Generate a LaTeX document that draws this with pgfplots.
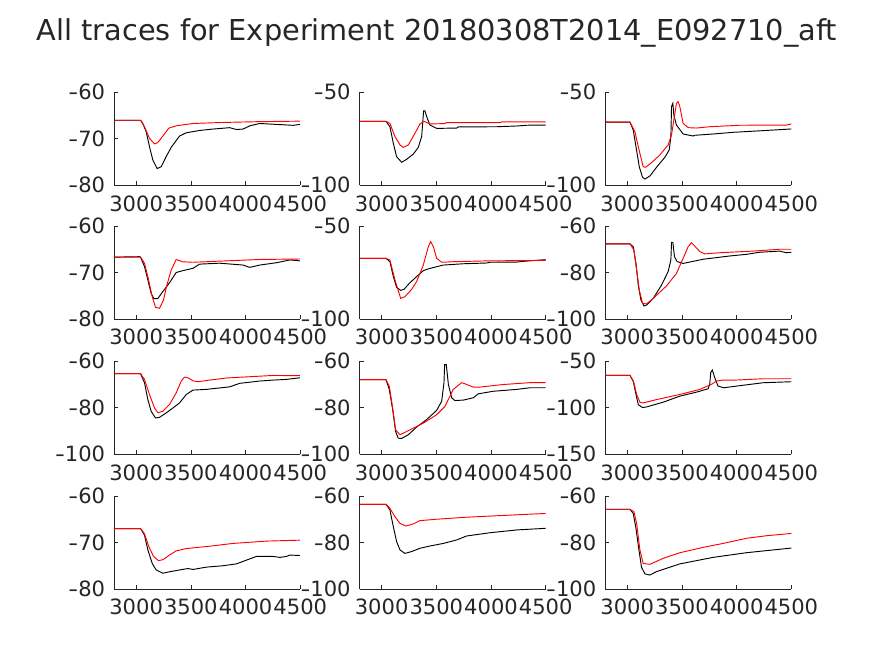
\documentclass[border=0pt]{standalone}
\usepackage{pgfplots}
\pgfplotsset{compat=1.18}
\usepackage{fontspec}
\setmainfont{DejaVu Sans}
\definecolor{axisgray}{gray}{0.15}
\newcommand{\ticksize}{\fontsize{15.8pt}{17pt}\selectfont}
\newcommand{\mm}{\scalebox{1.3}[1]{-}}
\pgfplotsset{
  panel/.style={
    scale only axis, width=139.5pt, height=69.75pt,
    anchor=south west,
    xmin=2800, xmax=4500,
    xtick={3000,3500,4000,4500}, xticklabels={3000,3500,4000,4500},
    axis x line*=bottom, axis y line*=left,
    axis line style={draw=axisgray, line width=0.5pt, -},
    tick style={draw=axisgray, line width=0.5pt},
    major tick length=3pt,
    tick label style={font=\ticksize, text=axisgray},
    xticklabel style={yshift=-4.2pt},
    yticklabel style={xshift=-3.3pt},
  },
  blk/.style={black, line width=0.7pt, no marks},
  rd/.style={red, line width=0.7pt, no marks},
}
\begin{document}
\begin{tikzpicture}
\path (0,0) rectangle (655.5pt,492pt);
\node[font=\fontsize{21.6pt}{25pt}\selectfont, text=axisgray] at (327.75pt,467.25pt) {All traces for Experiment 20180308T2014\_E092710\_aft};

% Panel 1
\begin{axis}[panel, at={(85.7pt,353pt)}, ymin=-80, ymax=-60, ytick={-80,-70,-60}, yticklabels={\mm80,\mm70,\mm60}]
\addplot[blk] coordinates {(2800,-66.0)(3040,-66.0)(3061,-66.7)(3092,-68.5)(3122,-71.7)(3153,-74.6)(3192,-76.4)(3229,-76.0)(3275,-73.8)(3321,-71.8)(3397,-69.4)(3458,-68.7)(3580,-68.2)(3702,-67.9)(3855,-67.6)(3916,-68.0)(3977,-67.9)(4040,-67.2)(4130,-66.7)(4283,-66.9)(4435,-67.1)(4497,-66.9)};
\addplot[rd] coordinates {(2800,-66.0)(3040,-66.0)(3076,-67.4)(3122,-69.9)(3168,-71.1)(3198,-70.8)(3244,-69.4)(3299,-67.7)(3366,-67.2)(3519,-66.7)(3763,-66.5)(4130,-66.3)(4497,-66.2)};
\end{axis}
% Panel 2
\begin{axis}[panel, at={(269.8pt,353pt)}, ymin=-100, ymax=-50, ytick={-100,-50}, yticklabels={\mm100,\mm50}]
\addplot[blk] coordinates {(2800,-65.6)(3040,-65.6)(3076,-68.5)(3107,-77.4)(3137,-84.6)(3183,-87.6)(3229,-86.0)(3290,-83.2)(3335,-79.6)(3366,-73.8)(3375,-66.7)(3384,-59.9)(3396,-59.9)(3412,-63.1)(3442,-67.6)(3503,-69.4)(3686,-69.2)(3701,-68.6)(4052,-68.5)(4235,-68.1)(4326,-67.7)(4418,-67.6)(4500,-67.6)};
\addplot[rd] coordinates {(2800,-65.6)(3040,-65.6)(3076,-66.7)(3122,-73.8)(3168,-78.3)(3198,-79.6)(3244,-78.3)(3305,-72.0)(3350,-67.0)(3387,-65.6)(3442,-67.0)(3579,-66.8)(3594,-66.3)(4082,-66.3)(4097,-65.9)(4500,-65.9)};
\end{axis}
% Panel 3
\begin{axis}[panel, at={(454pt,353pt)}, ymin=-100, ymax=-50, ytick={-100,-50}, yticklabels={\mm100,\mm50}]
\addplot[blk] coordinates {(2800,-66.0)(3025,-66.0)(3055,-70.3)(3080,-79.2)(3110,-90.0)(3140,-95.7)(3162,-96.6)(3207,-95.0)(3268,-90.3)(3344,-84.9)(3384,-81.0)(3399,-73.8)(3405,-57.7)(3417,-55.9)(3426,-62.2)(3450,-67.6)(3511,-72.4)(3602,-73.5)(3618,-73.1)(3785,-72.4)(3967,-71.5)(4241,-70.6)(4500,-69.7)};
\addplot[rd] coordinates {(2800,-66.0)(3025,-66.0)(3070,-71.1)(3101,-79.2)(3146,-90.0)(3168,-90.3)(3222,-87.8)(3298,-83.7)(3374,-78.3)(3405,-72.9)(3426,-64.9)(3450,-55.9)(3465,-55.0)(3481,-57.7)(3511,-66.7)(3557,-69.0)(3633,-69.2)(3754,-68.5)(4028,-67.7)(4453,-67.6)(4500,-67.0)};
\end{axis}
% Panel 4
\begin{axis}[panel, at={(85.7pt,252.75pt)}, ymin=-80, ymax=-60, ytick={-80,-70,-60}, yticklabels={\mm80,\mm70,\mm60}]
\addplot[blk] coordinates {(2800,-66.7)(3030,-66.6)(3040,-66.7)(3076,-68.7)(3107,-71.6)(3137,-74.5)(3162,-75.6)(3198,-75.6)(3244,-74.1)(3305,-72.2)(3366,-70.0)(3427,-69.6)(3519,-69.1)(3580,-68.2)(3763,-68.0)(3977,-68.4)(4038,-68.9)(4130,-68.4)(4282,-67.9)(4405,-67.3)(4497,-67.5)};
\addplot[rd] coordinates {(2800,-66.7)(3040,-66.7)(3076,-68.0)(3107,-70.9)(3147,-75.2)(3177,-77.5)(3214,-77.7)(3250,-75.9)(3281,-72.7)(3320,-69.5)(3366,-67.2)(3427,-67.7)(3519,-67.8)(3824,-67.5)(4130,-67.2)(4497,-67.1)};
\end{axis}
% Panel 5
\begin{axis}[panel, at={(269.8pt,252.75pt)}, ymin=-100, ymax=-50, ytick={-100,-50}, yticklabels={\mm100,\mm50}]
\addplot[blk] coordinates {(2800,-67.4)(3040,-67.4)(3076,-69.2)(3107,-77.2)(3137,-83.0)(3174,-84.6)(3204,-84.1)(3259,-80.5)(3320,-77.2)(3381,-74.0)(3442,-72.8)(3564,-71.0)(3747,-70.3)(3960,-69.9)(3991,-69.5)(4235,-69.4)(4296,-69.0)(4500,-68.1)};
\addplot[rd] coordinates {(2800,-67.4)(3040,-67.4)(3076,-68.3)(3122,-79.0)(3174,-88.9)(3213,-88.0)(3274,-84.1)(3320,-79.9)(3381,-71.0)(3427,-61.1)(3448,-58.4)(3473,-61.1)(3503,-67.4)(3549,-69.5)(3656,-69.2)(3930,-68.8)(4235,-68.6)(4500,-68.5)};
\end{axis}
% Panel 6
\begin{axis}[panel, at={(454pt,252.75pt)}, ymin=-100, ymax=-60, ytick={-100,-80,-60}, yticklabels={\mm100,\mm80,\mm60}]
\addplot[blk] coordinates {(2800,-67.7)(3025,-67.7)(3055,-68.9)(3080,-76.1)(3101,-85.4)(3125,-91.8)(3153,-94.4)(3177,-94.0)(3238,-91.1)(3314,-85.4)(3374,-79.6)(3399,-74.6)(3405,-67.0)(3417,-67.0)(3432,-73.2)(3456,-75.3)(3511,-76.1)(3694,-74.3)(3937,-72.9)(4089,-72.2)(4210,-71.3)(4393,-70.8)(4453,-71.5)(4500,-71.3)};
\addplot[rd] coordinates {(2800,-67.7)(3025,-67.7)(3061,-70.3)(3086,-78.9)(3110,-87.5)(3140,-93.3)(3177,-93.5)(3238,-91.1)(3359,-85.8)(3450,-80.4)(3511,-73.9)(3557,-68.9)(3587,-67.2)(3617,-68.6)(3663,-71.0)(3709,-72.0)(3845,-71.5)(4149,-70.8)(4393,-70.0)(4500,-70.0)};
\end{axis}
% Panel 7
\begin{axis}[panel, at={(85.7pt,151.3pt)}, ymin=-100, ymax=-60, ytick={-100,-80,-60}, yticklabels={\mm100,\mm80,\mm60}]
\addplot[blk] coordinates {(2800,-65.3)(3040,-65.3)(3076,-69.2)(3107,-76.5)(3137,-81.5)(3177,-84.4)(3214,-84.1)(3275,-82.2)(3336,-80.1)(3397,-77.9)(3458,-74.3)(3519,-72.4)(3641,-72.1)(3855,-71.0)(3946,-69.5)(4130,-68.5)(4252,-68.1)(4374,-67.8)(4497,-67.1)};
\addplot[rd] coordinates {(2800,-65.3)(3040,-65.3)(3076,-67.8)(3122,-74.3)(3168,-80.1)(3198,-82.1)(3244,-81.5)(3305,-78.6)(3366,-73.6)(3412,-68.5)(3443,-66.8)(3473,-67.1)(3519,-68.4)(3565,-68.8)(3671,-68.1)(3824,-67.2)(4252,-66.1)(4497,-66.2)};
\end{axis}
% Panel 8
\begin{axis}[panel, at={(269.8pt,151.3pt)}, ymin=-100, ymax=-60, ytick={-100,-80,-60}, yticklabels={\mm100,\mm80,\mm60}]
\addplot[blk] coordinates {(2800,-67.9)(3040,-67.9)(3070,-72.1)(3101,-80.8)(3128,-90.2)(3152,-93.1)(3183,-93.2)(3244,-91.6)(3320,-88.3)(3411,-85.1)(3503,-81.1)(3549,-77.2)(3570,-69.2)(3576,-61.4)(3591,-61.4)(3610,-69.9)(3640,-75.7)(3670,-76.9)(3747,-76.7)(3838,-75.7)(3884,-74.0)(4021,-72.9)(4235,-72.1)(4357,-71.4)(4500,-71.4)};
\addplot[rd] coordinates {(2800,-67.9)(3040,-67.9)(3070,-70.7)(3101,-80.1)(3128,-89.5)(3168,-91.6)(3259,-89.5)(3381,-86.6)(3503,-83.0)(3579,-79.4)(3655,-72.1)(3732,-69.2)(3762,-69.7)(3838,-71.1)(3899,-71.1)(4113,-70.0)(4357,-69.2)(4500,-69.2)};
\end{axis}
% Panel 9
\begin{axis}[panel, at={(454pt,151.3pt)}, ymin=-150, ymax=-50, ytick={-150,-100,-50}, yticklabels={\mm150,\mm100,\mm50}]
\addplot[blk] coordinates {(2800,-65.2)(3025,-65.2)(3055,-71.3)(3077,-83.9)(3101,-96.6)(3140,-99.8)(3177,-99.1)(3329,-94.0)(3481,-87.5)(3633,-83.2)(3739,-79.6)(3754,-74.9)(3763,-62.3)(3778,-59.4)(3800,-67.7)(3830,-76.7)(3882,-78.5)(3998,-76.7)(4241,-73.1)(4500,-72.0)};
\addplot[rd] coordinates {(2800,-65.2)(3025,-65.2)(3061,-73.1)(3086,-85.7)(3116,-94.0)(3146,-94.8)(3268,-91.2)(3481,-85.7)(3663,-80.3)(3769,-74.9)(3815,-71.3)(3876,-70.2)(3998,-70.2)(4241,-68.8)(4500,-68.8)};
\end{axis}
% Panel 10
\begin{axis}[panel, at={(85.7pt,50.25pt)}, ymin=-80, ymax=-60, ytick={-80,-70,-60}, yticklabels={\mm80,\mm70,\mm60}]
\addplot[blk] coordinates {(2800,-67.0)(3040,-67.0)(3076,-68.4)(3107,-71.6)(3147,-74.5)(3183,-75.9)(3244,-76.6)(3305,-76.3)(3397,-75.9)(3473,-75.6)(3519,-75.8)(3641,-75.3)(3794,-75.0)(3916,-74.6)(4007,-73.8)(4099,-73.0)(4252,-73.0)(4313,-73.2)(4374,-73.0)(4405,-72.7)(4497,-72.8)};
\addplot[rd] coordinates {(2800,-67.0)(3040,-67.0)(3076,-68.1)(3116,-70.9)(3159,-73.0)(3204,-73.9)(3244,-73.7)(3305,-72.7)(3366,-71.8)(3458,-71.3)(3671,-70.8)(3885,-70.2)(4191,-69.7)(4497,-69.5)};
\end{axis}
% Panel 11
\begin{axis}[panel, at={(269.8pt,50.25pt)}, ymin=-100, ymax=-60, ytick={-100,-80,-60}, yticklabels={\mm100,\mm80,\mm60}]
\addplot[blk] coordinates {(2800,-63.6)(3040,-63.6)(3076,-66.0)(3107,-73.2)(3137,-79.6)(3168,-83.2)(3213,-84.7)(3274,-83.9)(3350,-82.5)(3442,-81.5)(3564,-80.4)(3686,-78.9)(3777,-77.2)(3991,-75.8)(4235,-74.6)(4500,-73.9)};
\addplot[rd] coordinates {(2800,-63.6)(3040,-63.6)(3076,-65.3)(3122,-68.9)(3168,-71.8)(3222,-72.9)(3290,-72.0)(3350,-70.6)(3503,-70.0)(3747,-69.2)(4052,-68.5)(4500,-67.5)};
\end{axis}
% Panel 12
\begin{axis}[panel, at={(454pt,50.25pt)}, ymin=-100, ymax=-60, ytick={-100,-80,-60}, yticklabels={\mm100,\mm80,\mm60}]
\addplot[blk] coordinates {(2800,-65.7)(3025,-65.7)(3055,-67.5)(3080,-73.9)(3107,-83.2)(3131,-90.7)(3162,-93.5)(3207,-94.0)(3268,-92.5)(3359,-91.1)(3481,-89.2)(3633,-87.8)(3785,-86.4)(3937,-85.4)(4089,-84.4)(4271,-83.5)(4500,-82.4)};
\addplot[rd] coordinates {(2800,-65.7)(3025,-65.7)(3061,-66.7)(3086,-71.8)(3116,-83.2)(3146,-89.0)(3207,-89.4)(3329,-86.8)(3481,-84.4)(3693,-82.1)(3876,-80.4)(4089,-78.2)(4271,-77.1)(4500,-76.1)};
\end{axis}
\pgfresetboundingbox
\path[use as bounding box] (0,0) rectangle (655.5pt,492pt);
\end{tikzpicture}
\end{document}
